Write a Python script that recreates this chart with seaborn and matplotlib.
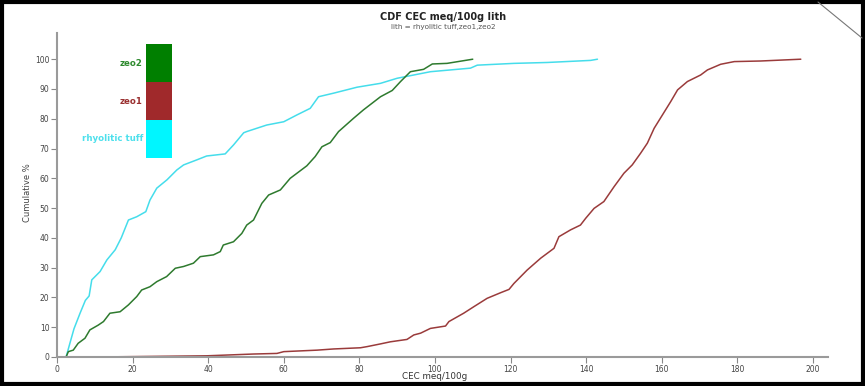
import numpy as np
import pandas as pd
import matplotlib
matplotlib.use("Agg")
import matplotlib.pyplot as plt
from matplotlib.patches import Rectangle
from matplotlib.lines import Line2D
import seaborn as sns

# ---- data ----
lith_names = ["rhyolitic tuff", "zeo1", "zeo2"]

tuff_x = [2.4, 3.5, 4.5, 6.1, 7.5, 8.5, 9.2, 11.4, 13.2, 15.4, 17.0, 18.9, 21.1, 23.5, 24.6,
          26.4, 29.1, 31.7, 33.5, 37.0, 39.6, 44.5, 46.7, 49.4, 50.2, 55.5, 60.0, 63.5, 67.0,
          69.2, 73.2, 79.4, 85.6, 90.0, 94.4, 98.8, 109.4, 111.2, 120.9, 129.7, 141.2, 143.0]
tuff_y = [0, 5, 9.5, 14.7, 19, 20.5, 25.9, 28.7, 32.6, 36, 40, 46, 47.1, 48.8, 52.7,
          56.7, 59.5, 62.8, 64.5, 66.2, 67.5, 68.2, 71.2, 75.3, 75.7, 77.9, 79.0, 81.3, 83.5,
          87.4, 88.6, 90.6, 91.9, 93.6, 94.7, 95.8, 97.0, 98.0, 98.6, 98.9, 99.6, 100]

zeo2_x = [2.4, 3.0, 4.3, 5.6, 7.4, 8.7, 10.9, 12.3, 14.0, 16.7, 18.9, 21.1, 22.4, 24.6, 26.4,
          29.0, 31.3, 33.5, 36.1, 37.9, 41.4, 43.2, 44.0, 46.7, 48.9, 50.2, 52.0, 54.2, 56.0,
          59.1, 61.7, 66.1, 68.3, 70.1, 72.3, 74.5, 78.5, 81.1, 85.6, 88.7, 90.9, 93.5, 97.0,
          99.3, 103.2, 110.0]
zeo2_y = [0, 1.8, 2.3, 4.6, 6.3, 9.1, 10.7, 11.9, 14.7, 15.2, 17.5, 20.3, 22.5, 23.6, 25.3,
          27.0, 29.8, 30.4, 31.5, 33.7, 34.3, 35.4, 37.6, 38.7, 41.5, 44.3, 46.0, 51.6, 54.4,
          56.1, 60.0, 64.2, 67.3, 70.6, 72.0, 75.7, 80.2, 83.0, 87.4, 89.5, 92.5, 95.8, 96.6,
          98.4, 98.6, 100]

zeo1_x = [10.5, 39.6, 52.0, 58.2, 60.0, 68.8, 73.2, 80.3, 82.1, 85.6, 88.2, 92.6, 94.4, 96.2,
          98.8, 102.8, 103.7, 107.6, 110.3, 113.8, 117.4, 119.6, 120.9, 124.4, 128.0, 131.5,
          132.8, 135.9, 138.5, 139.9, 142.1, 144.7, 147.4, 150.0, 152.2, 154.4, 156.2, 158.0,
          160.2, 162.4, 164.2, 166.8, 170.3, 172.1, 175.6, 179.2, 186.2, 196.8]
zeo1_y = [0, 0.4, 1.0, 1.2, 1.8, 2.3, 2.7, 3.1, 3.5, 4.4, 5.1, 5.9, 7.4, 8.0,
          9.6, 10.4, 11.9, 14.7, 16.9, 19.7, 21.6, 22.7, 24.7, 29.2, 33.2, 36.5,
          40.4, 42.7, 44.3, 46.6, 49.9, 52.2, 57.2, 61.7, 64.5, 68.4, 71.8, 76.8,
          81.3, 85.8, 89.7, 92.5, 94.7, 96.4, 98.3, 99.2, 99.4, 100]

x_ticks = [0, 20, 40, 60, 80, 100, 120, 140, 160, 180, 200]
y_ticks = [0, 10, 20, 30, 40, 50, 60, 70, 80, 90, 100]

line_colors = {"rhyolitic tuff": "#45DDEB", "zeo1": "#9A3B3B", "zeo2": "#2E7A2E"}
block_colors = {"rhyolitic tuff": "#00F6FF", "zeo1": "#A0292B", "zeo2": "#007F00"}
label_colors = {"rhyolitic tuff": "#4EE0EC", "zeo1": "#9A3030", "zeo2": "#2E8A2E"}

df = pd.concat([
    pd.DataFrame({"x": tuff_x, "y": tuff_y, "lith": "rhyolitic tuff", "i": range(len(tuff_x))}),
    pd.DataFrame({"x": zeo2_x, "y": zeo2_y, "lith": "zeo2", "i": range(len(zeo2_x))}),
    pd.DataFrame({"x": zeo1_x, "y": zeo1_y, "lith": "zeo1", "i": range(len(zeo1_x))}),
], ignore_index=True)

sns.set_theme(style="white")
plt.rcParams["font.family"] = ["DejaVu Sans"]

fig = plt.figure(figsize=(8.65, 3.86), dpi=100)
ax = fig.add_axes([57 / 865, 29 / 386, 771 / 865, 324 / 386])

sns.lineplot(data=df, x="x", y="y", hue="lith", units="lith", estimator=None, sort=False,
             palette=line_colors, hue_order=["rhyolitic tuff", "zeo2", "zeo1"],
             linewidth=1.1, legend=False, ax=ax)

ax.set_xlim(0, 204)
ax.set_ylim(0, 108.8)
ax.set_xticks(x_ticks)
ax.set_yticks(y_ticks)
ax.tick_params(axis="both", labelsize=5.5, labelcolor="#444444", color="#888888",
               length=4, width=0.8, direction="out", bottom=True, left=True, pad=1.5)
for s in ["top", "right"]:
    ax.spines[s].set_visible(False)
for s in ["left", "bottom"]:
    ax.spines[s].set_color("#9a9a9a")
    ax.spines[s].set_linewidth(1.5)
ax.set_xlabel("")
ax.set_ylabel("")

# axis labels & titles
fig.text(435 / 865, 1 - 376.5 / 386, "CEC meq/100g", ha="center", va="center",
         fontsize=6.3, color="#333333")
fig.text(27 / 865, 1 - 193 / 386, "Cumulative %", ha="center", va="center",
         rotation=90, fontsize=6, color="#444444")
fig.text(443 / 865, 1 - 17 / 386, "CDF CEC meq/100g lith", ha="center", va="center",
         fontsize=7, fontweight="bold", color="#222222")
fig.text(443 / 865, 1 - 27.5 / 386, "lith = rhyolitic tuff,zeo1,zeo2", ha="center",
         va="center", fontsize=5.2, color="#555555")

# colour-block legend
legend_order = ["zeo2", "zeo1", "rhyolitic tuff"]
top = 44
h = 38
for k, name in enumerate(legend_order):
    y0 = top + k * h
    fig.patches.append(Rectangle((146 / 865, 1 - (y0 + h) / 386), 26 / 865, h / 386,
                                 transform=fig.transFigure, facecolor=block_colors[name],
                                 edgecolor="none"))
    fig.text(143 / 865, 1 - (y0 + h / 2) / 386, name, ha="right", va="center",
             fontsize=6.2, fontweight="bold", color=label_colors[name])

# outer frame and corner decoration
fig.patches.append(Rectangle((0.002, 0.004), 0.996, 0.992, transform=fig.transFigure,
                             fill=False, edgecolor="black", linewidth=3))
fig.lines.append(Line2D([818 / 865, 862 / 865], [1 - 2 / 386, 1 - 38 / 386],
                        transform=fig.transFigure, color="#777777", linewidth=0.8))

fig.savefig("out.png", dpi=100)
